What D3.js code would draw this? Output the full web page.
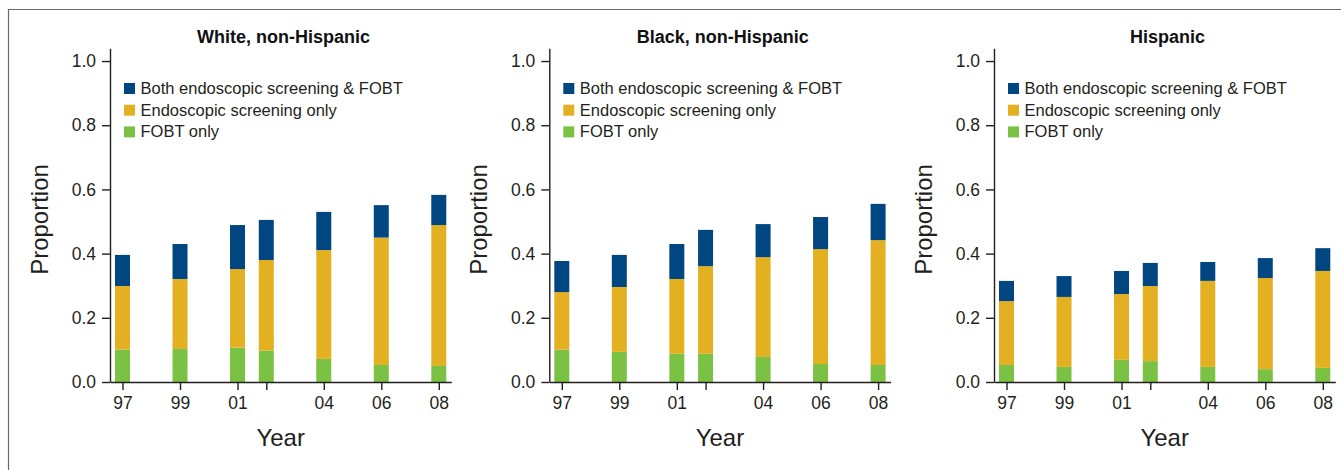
<!DOCTYPE html>
<html><head><meta charset="utf-8">
<script src="https://cdn.jsdelivr.net/npm/d3@7"></script>
<style>html,body{margin:0;padding:0;background:#fff;}svg{display:block;}</style>
</head><body>
<script>
const years = [1997, 1999, 2001, 2002, 2004, 2006, 2008];
const yearTicks = [1997, 1999, 2001, 2002, 2004, 2006, 2008];
const yearTickLabels = ["97", "99", "01", "", "04", "06", "08"];
const panels = ["White, non-Hispanic", "Black, non-Hispanic", "Hispanic"];
const seriesNames = ["Both endoscopic screening & FOBT", "Endoscopic screening only", "FOBT only"];
const yTicks = [0, 0.2, 0.4, 0.6, 0.8, 1.0];

// values per panel: FOBT only, Endoscopic only, Both
const fobtOnly = [
  [0.101, 0.103, 0.107, 0.098, 0.072, 0.053, 0.050],
  [0.101, 0.094, 0.088, 0.088, 0.078, 0.056, 0.053],
  [0.053, 0.047, 0.069, 0.065, 0.047, 0.040, 0.044]
];
const endoOnly = [
  [0.198, 0.218, 0.245, 0.282, 0.339, 0.397, 0.439],
  [0.179, 0.202, 0.233, 0.273, 0.311, 0.358, 0.389],
  [0.199, 0.218, 0.205, 0.234, 0.268, 0.284, 0.302]
];
const bothScreen = [
  [0.097, 0.109, 0.137, 0.125, 0.119, 0.101, 0.094],
  [0.097, 0.100, 0.109, 0.113, 0.103, 0.100, 0.113],
  [0.063, 0.065, 0.072, 0.072, 0.059, 0.062, 0.071]
];

const colors = {both: "#004680", endo: "#e3b022", fobt: "#7bc143"};
const W = 1341, H = 470;
const svg = d3.select("body").append("svg").attr("width", W).attr("height", H);
const FONT = "'Liberation Sans', Arial, Helvetica, sans-serif";

// frame
svg.append("path").attr("d", `M8.5,${H} V9.5 H${W}`).attr("fill", "none").attr("stroke", "#6a6a6a").attr("stroke-width", 1.2);

const axisX = [110, 549.3, 994];
const axisW = 341.3;
const y = d3.scaleLinear().domain([0, 1.04]).range([382, 48.2]);
const x = d3.scaleLinear().domain([1996.565, 2008.435]).range([0, axisW]);
const barW = 15;

panels.forEach((title, p) => {
  const g = svg.append("g").attr("transform", `translate(${axisX[p]},0)`);
  const stack = years.map((yr, i) => ({
    year: yr,
    segs: [
      {key: "fobt", y0: 0, y1: fobtOnly[p][i]},
      {key: "endo", y0: fobtOnly[p][i], y1: fobtOnly[p][i] + endoOnly[p][i]},
      {key: "both", y0: fobtOnly[p][i] + endoOnly[p][i], y1: fobtOnly[p][i] + endoOnly[p][i] + bothScreen[p][i]}
    ]
  }));
  stack.forEach(d => {
    g.selectAll(null).data(d.segs).enter().append("rect")
      .attr("x", x(d.year) - barW / 2)
      .attr("width", barW)
      .attr("y", s => y(s.y1))
      .attr("height", s => y(s.y0) - y(s.y1))
      .attr("fill", s => colors[s.key]);
  });

  // y axis
  const ya = g.append("g").call(d3.axisLeft(y).tickValues(yTicks).tickFormat(d3.format(".1f")).tickSize(8).tickPadding(6).tickSizeOuter(0));
  // x axis
  const xa = g.append("g").attr("transform", `translate(0,${y(0)})`)
    .call(d3.axisBottom(x).tickValues(yearTicks).tickFormat((d, i) => yearTickLabels[i]).tickSize(8).tickPadding(7).tickSizeOuter(0));
  [ya, xa].forEach(a => {
    a.selectAll(".domain").attr("stroke", "#231f20").attr("stroke-width", 1.4);
    a.selectAll(".tick line").attr("stroke", "#231f20").attr("stroke-width", 1.4);
    a.selectAll("text").attr("font-family", FONT).attr("font-size", 17.5).attr("fill", "#231f20");
  });

  // title
  g.append("text").attr("x", x(2002.6)).attr("y", 43).attr("text-anchor", "middle")
    .attr("font-family", FONT).attr("font-weight", "bold").attr("font-size", 18).attr("fill", "#111").text(title);

  // axis titles
  g.append("text").attr("x", x(2002.5)).attr("y", 446).attr("text-anchor", "middle")
    .attr("font-family", FONT).attr("font-size", 24).attr("fill", "#231f20").text("Year");
  g.append("text").attr("transform", `translate(-62,219.5) rotate(-90)`).attr("text-anchor", "middle")
    .attr("font-family", FONT).attr("font-size", 24).attr("fill", "#231f20").text("Proportion");

  // legend
  const legKeys = ["both", "endo", "fobt"];
  const lg = g.append("g").attr("transform", "translate(14,83)");
  seriesNames.forEach((name, i) => {
    lg.append("rect").attr("x", 0).attr("y", i * 21.7).attr("width", 11).attr("height", 11).attr("fill", colors[legKeys[i]]);
    lg.append("text").attr("x", 16.5).attr("y", i * 21.7 + 11).attr("font-family", FONT).attr("font-size", 16.5).attr("fill", "#231f20").text(name);
  });
});
</script>
</body></html>
